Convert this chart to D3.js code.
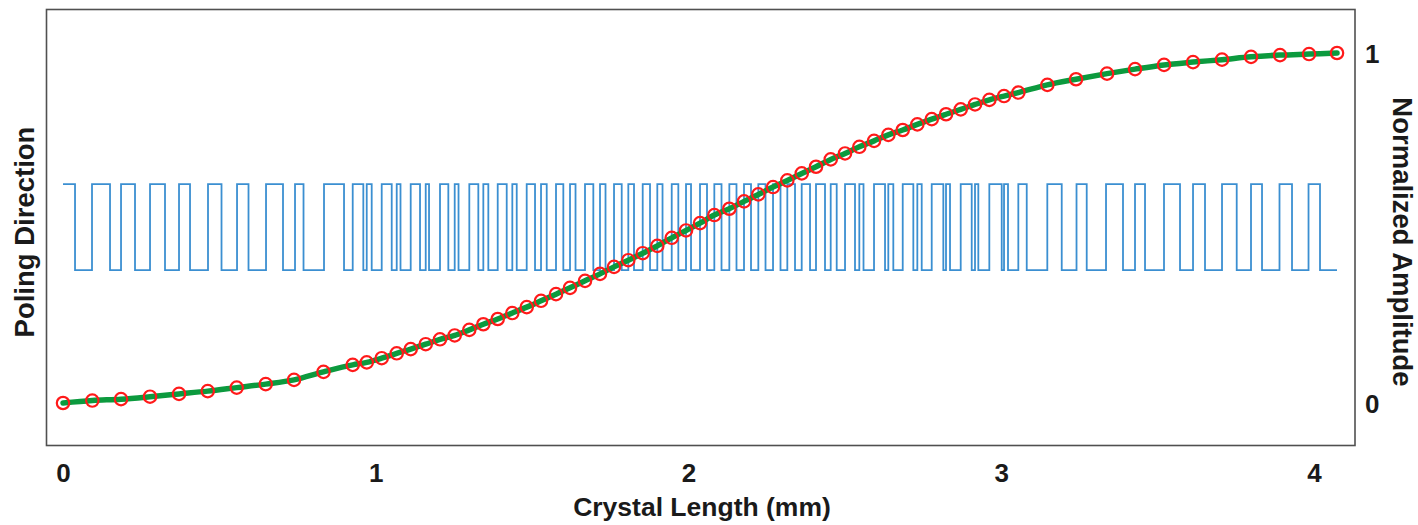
<!DOCTYPE html>
<html>
<head>
<meta charset="utf-8">
<script src="https://cdn.jsdelivr.net/npm/d3@7/dist/d3.min.js"></script>
<style>
  html, body { margin: 0; padding: 0; background: #fff; }
  svg text { font-family: "Liberation Sans", Arial, Helvetica, sans-serif; font-weight: bold; fill: #1a1a1a; }
</style>
</head>
<body>
<svg id="chart" width="1418" height="525"></svg>
<script>
// Sampled positions along the crystal (mm) and the normalized amplitude at each one
const samplePos = [
  0.0000, 0.0937, 0.1855, 0.2782, 0.3709, 0.4627, 0.5554, 0.6481, 0.7386, 0.8329,
  0.9263, 0.9711, 1.0190, 1.0670, 1.1118, 1.1597, 1.2054, 1.2524, 1.2991, 1.3439,
  1.3899, 1.4366, 1.4827, 1.5284, 1.5763, 1.6211, 1.6691, 1.7170, 1.7618, 1.8075,
  1.8535, 1.9003, 1.9463, 1.9920, 2.0368, 2.0825, 2.1305, 2.1775, 2.2232, 2.2702,
  2.3159, 2.3620, 2.4077, 2.4547, 2.5004, 2.5462, 2.5932, 2.6389, 2.6849, 2.7316,
  2.7777, 2.8234, 2.8704, 2.9161, 2.9619, 3.0088, 3.0546, 3.1473, 3.2390, 3.3381,
  3.4277, 3.5204, 3.6131, 3.7058, 3.7986, 3.8913, 3.9840, 4.0735
];
const sampleAmp = [
  0.000, 0.007, 0.011, 0.018, 0.026, 0.034, 0.044, 0.054, 0.066, 0.089,
  0.109, 0.116, 0.128, 0.142, 0.154, 0.168, 0.182, 0.193, 0.209, 0.225,
  0.240, 0.257, 0.274, 0.292, 0.311, 0.329, 0.349, 0.369, 0.389, 0.408,
  0.428, 0.449, 0.472, 0.493, 0.514, 0.537, 0.555, 0.576, 0.596, 0.617,
  0.636, 0.656, 0.675, 0.696, 0.713, 0.732, 0.749, 0.766, 0.780, 0.796,
  0.811, 0.825, 0.839, 0.853, 0.866, 0.877, 0.887, 0.909, 0.925, 0.941,
  0.954, 0.966, 0.974, 0.981, 0.989, 0.994, 0.997, 1.000
];

// Domain walls (mm): the poling flips sign at each one, starting "up" at 0;
// the final entry is the end of the crystal.
const polingEdges = [
  0.0000, 0.0384, 0.0927, 0.1503, 0.1855, 0.2302, 0.2782, 0.3261, 0.3709, 0.4061,
  0.4636, 0.5068, 0.5564, 0.5931, 0.6491, 0.7034, 0.7418, 0.7690, 0.8345, 0.8985,
  0.9263, 0.9602, 0.9711, 0.9870, 1.0190, 1.0510, 1.0670, 1.0791, 1.1117, 1.1415,
  1.1597, 1.1703, 1.2054, 1.2320, 1.2524, 1.2646, 1.2991, 1.3279, 1.3439, 1.3599,
  1.3899, 1.4187, 1.4366, 1.4507, 1.4826, 1.5092, 1.5284, 1.5466, 1.5763, 1.5997,
  1.6211, 1.6387, 1.6690, 1.6956, 1.7170, 1.7346, 1.7618, 1.7864, 1.8075, 1.8257,
  1.8535, 1.8769, 1.9002, 1.9169, 1.9463, 1.9674, 1.9920, 2.0080, 2.0367, 2.0591,
  2.0825, 2.1055, 2.1305, 2.1534, 2.1774, 2.1998, 2.2232, 2.2462, 2.2702, 2.2941,
  2.3159, 2.3405, 2.3619, 2.3885, 2.4076, 2.4364, 2.4546, 2.4738, 2.5004, 2.5323,
  2.5461, 2.5595, 2.5931, 2.6283, 2.6388, 2.6548, 2.6849, 2.7188, 2.7316, 2.7456,
  2.7776, 2.8147, 2.8233, 2.8361, 2.8703, 2.9055, 2.9160, 2.9266, 2.9618, 3.0014,
  3.0088, 3.0215, 3.0545, 3.0814, 3.1472, 3.1933, 3.2406, 3.2732, 3.3349, 3.3892,
  3.4276, 3.4596, 3.5203, 3.5715, 3.6131, 3.6514, 3.7058, 3.7528, 3.7985, 3.8337,
  3.8896, 3.9296, 3.9824, 4.0191, 4.0735
];
const polingLevels = [1, -1];

// Axis tick labels
const xTicks = [0, 1, 2, 3, 4];
const ampTicks = [0, 1];

// Layout
const W = 1418, H = 525;
const plot = { left: 46.5, right: 1355, top: 9.5, bottom: 445.5 };

const svg = d3.select("#chart");

const x = d3.scaleLinear().domain([-0.0528, 4.131]).range([plot.left, plot.right]);
const yAmp = d3.scaleLinear().domain([-0.1214, 1.1243]).range([plot.bottom, plot.top]);
const yPol = d3.scaleLinear().domain([-5.08, 5.06]).range([plot.bottom, plot.top]);

svg.append("defs").append("clipPath").attr("id", "plotClip")
  .append("rect")
  .attr("x", plot.left).attr("y", plot.top)
  .attr("width", plot.right - plot.left).attr("height", plot.bottom - plot.top);

const g = svg.append("g").attr("clip-path", "url(#plotClip)");

// Poling direction: square wave between +1 and -1
const polingPts = polingEdges.map((e, i) => ({
  pos: e,
  level: i < polingEdges.length - 1 ? polingLevels[i % 2] : polingLevels[(i - 1) % 2]
}));
g.append("path")
  .datum(polingPts)
  .attr("fill", "none")
  .attr("stroke", "#3b8fd1")
  .attr("stroke-width", 1.8)
  .attr("stroke-linejoin", "miter")
  .attr("d", d3.line().x(d => x(d.pos)).y(d => yPol(d.level)).curve(d3.curveStepAfter));

// Normalized amplitude: thick green curve with hollow red markers
const amp = samplePos.map((p, i) => ({ pos: p, val: sampleAmp[i] }));
g.append("path")
  .datum(amp)
  .attr("fill", "none")
  .attr("stroke", "#0c9a3e")
  .attr("stroke-width", 5.5)
  .attr("stroke-linecap", "round")
  .attr("d", d3.line().x(d => x(d.pos)).y(d => yAmp(d.val)).curve(d3.curveMonotoneX));

svg.append("g")
  .selectAll("circle")
  .data(amp)
  .join("circle")
  .attr("cx", d => x(d.pos))
  .attr("cy", d => yAmp(d.val))
  .attr("r", 6.2)
  .attr("fill", "none")
  .attr("stroke", "#ff1a1a")
  .attr("stroke-width", 2.2);

// Frame
svg.append("rect")
  .attr("x", plot.left).attr("y", plot.top)
  .attr("width", plot.right - plot.left).attr("height", plot.bottom - plot.top)
  .attr("fill", "none")
  .attr("stroke", "#505050")
  .attr("stroke-width", 1.6);

// Bottom axis labels (no tick marks)
const xAxis = d3.axisBottom(x).tickValues(xTicks).tickSize(0).tickPadding(0).tickFormat(d3.format("d"));
const xAxisG = svg.append("g").attr("transform", `translate(0,${plot.bottom})`).call(xAxis);
xAxisG.select(".domain").remove();
xAxisG.selectAll("text")
  .attr("dy", null).attr("y", 36.5)
  .style("font-size", "26px").style("font-weight", "bold")
  .style("font-family", "'Liberation Sans', Arial, sans-serif").attr("fill", "#1a1a1a");

// Right axis labels (no tick marks)
const yAxis = d3.axisRight(yAmp).tickValues(ampTicks).tickSize(0).tickPadding(0).tickFormat(d3.format("d"));
const yAxisG = svg.append("g").attr("transform", `translate(${plot.right + 10},0)`).call(yAxis);
yAxisG.select(".domain").remove();
yAxisG.selectAll("text")
  .attr("dy", "0.35em")
  .style("font-size", "26px").style("font-weight", "bold")
  .style("font-family", "'Liberation Sans', Arial, sans-serif").attr("fill", "#1a1a1a");

// Axis titles
svg.append("text")
  .attr("x", 702).attr("y", 516)
  .attr("text-anchor", "middle")
  .style("font-size", "26.5px")
  .text("Crystal Length (mm)");

svg.append("text")
  .attr("transform", "translate(34,232) rotate(-90)")
  .attr("text-anchor", "middle")
  .style("font-size", "27.5px")
  .text("Poling Direction");

svg.append("text")
  .attr("transform", "translate(1393,242) rotate(90)")
  .attr("text-anchor", "middle")
  .style("font-size", "27.5px")
  .text("Normalized Amplitude");
</script>
</body>
</html>
